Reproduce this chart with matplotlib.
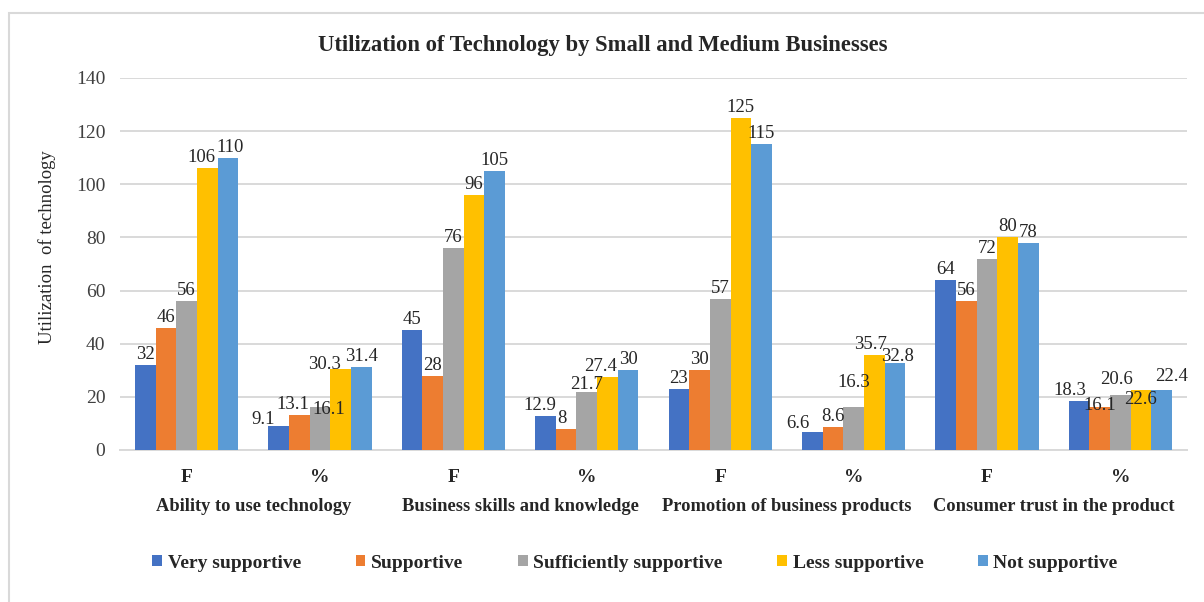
import numpy as np
import matplotlib
matplotlib.use('Agg')
import matplotlib.pyplot as plt
from matplotlib.patches import Rectangle, Patch
from matplotlib.transforms import blended_transform_factory

plt.rcParams['font.family'] = ['Liberation Serif', 'DejaVu Serif']

## data
groups = ['F', '%', 'F', '%', 'F', '%', 'F', '%']
categories = ['Ability to use technology', 'Business skills and knowledge',
              'Promotion of business products', 'Consumer trust in the product']
series_names = ['Very supportive', 'Supportive', 'Sufficiently supportive',
                'Less supportive', 'Not supportive']
very_supportive = [32, 9.1, 45, 12.9, 23, 6.6, 64, 18.3]
supportive = [46, 13.1, 28, 8, 30, 8.6, 56, 16.1]
sufficiently_supportive = [56, 16.1, 76, 21.7, 57, 16.3, 72, 20.6]
less_supportive = [106, 30.3, 96, 27.4, 125, 35.7, 80, 22.6]
not_supportive = [110, 31.4, 105, 30, 115, 32.8, 78, 22.4]
yticks = [0, 20, 40, 60, 80, 100, 120, 140]

series_values = [very_supportive, supportive, sufficiently_supportive,
                 less_supportive, not_supportive]
colors = ['#4472C4', '#ED7D31', '#A5A5A5', '#FFC000', '#5B9BD5']

## label nudges (pixels) where excel moved the data labels: (group, series) -> (dx, dy)
label_nudge = {(0, 3): (-6, 0), (0, 4): (2, 0),
               (1, 0): (-16, -4), (1, 1): (-7, 0), (1, 2): (9, -13), (1, 3): (-16, -6),
               (3, 0): (-6, 0), (3, 1): (-4, 0), (3, 2): (0, -3), (3, 3): (-7, 0),
               (5, 0): (-14, -2), (5, 2): (0, 14), (5, 3): (-4, 0), (5, 4): (3, -4),
               (7, 0): (-9, 0), (7, 1): (0, -9), (7, 2): (-4, 5), (7, 3): (0, -20),
               (7, 4): (10, 3)}

fig = plt.figure(figsize=(12.04, 6.02), dpi=100)
## light frame round the chart area (as in the excel export)
fig.patches.append(Rectangle((9/1204, -0.05), 1.2, 1 - 13/602 + 0.05,
                             transform=fig.transFigure, fill=False,
                             edgecolor='#D9D9D9', linewidth=1.5))

ax = fig.add_axes([120/1204, 1 - 450/602, (1187-120)/1204, (450-78)/602])

x = np.arange(len(groups))
bw = 0.155
px2pt = 72 / 100.
for i, (vals, col) in enumerate(zip(series_values, colors)):
    pos = x + (i - 2) * bw
    ax.bar(pos, vals, width=bw, color=col, zorder=3)
    for g, (px, v) in enumerate(zip(pos, vals)):
        dx, dy = label_nudge.get((g, i), (0, 0))
        ax.annotate(f'{v:g}', (px, v), xytext=(dx * px2pt, (2 + dy) * px2pt),
                    textcoords='offset points', ha='center', va='bottom',
                    fontsize=13.5, color='#262626', zorder=4)

ax.set_xlim(-0.5, len(groups) - 0.5)
ax.set_ylim(0, 140)
ax.set_yticks(yticks)
ax.tick_params(axis='y', length=0, labelsize=14, pad=10.5, colors='#404040')
ax.tick_params(axis='x', length=0)
ax.set_xticks([])
ax.yaxis.grid(True, color='#D9D9D9', linewidth=1.4, zorder=0)
for s in ['top', 'right', 'left']:
    ax.spines[s].set_visible(False)
ax.spines['bottom'].set_color('#D9D9D9')
ax.spines['bottom'].set_linewidth(1.4)

ax.set_ylabel('Utilization  of technology', fontsize=13.5, color='#262626')
ax.yaxis.set_label_coords(-0.060, 0.545)

trans = blended_transform_factory(ax.transData, ax.transAxes)
for xi, g in zip(x, groups):
    ax.text(xi, -0.075, g, transform=trans, ha='center', va='center',
            fontsize=14, fontweight='bold', color='#262626')
for k, c in enumerate(categories):
    ax.text(2 * k + 0.5, -0.153, c, transform=trans, ha='center', va='center',
            fontsize=13.3, fontweight='bold', color='#262626')

fig.text(603/1204, 1 - 45/602, 'Utilization of Technology by Small and Medium Businesses',
         ha='center', va='center', fontsize=16.3, fontweight='bold', color='#262626')

handles = [Patch(facecolor=c) for c in colors]
leg = fig.legend(handles, series_names, loc='center', ncol=5,
                 bbox_to_anchor=(635/1204, 1 - 563/602), frameon=False,
                 prop={'weight': 'bold', 'size': 14},
                 handlelength=0.5, handleheight=0.5, handletextpad=0.3,
                 columnspacing=2.8)
for t in leg.get_texts():
    t.set_color('#262626')

fig.savefig('out.png', dpi=100)
